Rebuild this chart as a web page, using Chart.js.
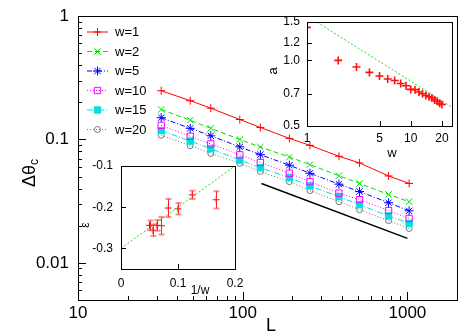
<!DOCTYPE html>
<html>
<head>
<meta charset="utf-8">
<script src="https://cdn.jsdelivr.net/npm/chart.js@4.4.0/dist/chart.umd.min.js"></script>
<style>
html, body { margin: 0; padding: 0; background: #fff; }
#wrap { position: relative; width: 471px; height: 336px; }
canvas { position: absolute; }
</style>
</head>
<body>
<div id="wrap">
  <canvas id="main" width="471" height="336" style="left:0;top:0"></canvas>
  <canvas id="insetA" width="205" height="150" style="left:260px;top:10px"></canvas>
  <canvas id="insetE" width="175" height="146" style="left:75px;top:156px"></canvas>
</div>
<script>
// main plot: delta theta_c vs L for several w
const sizeL = [32, 48, 64, 96, 128, 192, 256, 384, 512, 768, 1024];
const seriesLabels = ['w=1', 'w=2', 'w=5', 'w=10', 'w=15', 'w=20'];
const thetaW1 = [0.248, 0.206, 0.179, 0.145, 0.125, 0.102, 0.0895, 0.073, 0.0645, 0.0506, 0.044];
const thetaW2 = [0.175, 0.143, 0.123, 0.100, 0.0867, 0.072, 0.0625, 0.0508, 0.044, 0.0358, 0.0313];
const thetaW5 = [0.150, 0.123, 0.107, 0.087, 0.0752, 0.0618, 0.0532, 0.0434, 0.0378, 0.0307, 0.0264];
const thetaW10 = [0.130, 0.106, 0.092, 0.075, 0.065, 0.0532, 0.0455, 0.0367, 0.0325, 0.0265, 0.0229];
const thetaW15 = [0.118, 0.097, 0.084, 0.068, 0.059, 0.049, 0.042, 0.0344, 0.0296, 0.024, 0.0209];
const thetaW20 = [0.108, 0.089, 0.077, 0.064, 0.055, 0.0455, 0.0385, 0.0313, 0.027, 0.022, 0.019];
const guideL = [130, 1000];
const guideTheta = [0.044, 0.0158];
const mainXTicks = [10, 100, 1000];
const mainXTickLabels = ['10', '100', '1000'];
const mainYTicks = [0.01, 0.1, 1];
const mainYTickLabels = ['0.01', '0.1', '1'];

// inset top right: a vs w
const widthW = [1, 2, 3, 4, 5, 6, 7, 8, 9, 10, 11, 12, 13, 14, 15, 16, 17, 18, 19, 20];
const ampA = [1.417, 1.00, 0.933, 0.881, 0.848, 0.821, 0.809, 0.783, 0.765, 0.736, 0.734, 0.716, 0.703, 0.690, 0.681, 0.672, 0.658, 0.649, 0.636, 0.627];
const fitW = [1, 25];
const fitA = [1.6, 0.61];
const insetAXTicks = [1, 5, 10, 20];
const insetAXTickLabels = ['1', '5', '10', '20'];
const insetAYTicks = [0.5, 0.7, 1.0, 1.2, 1.5];
const insetAYTickLabels = ['0.5', '0.7', '1.0', '1.2', '1.5'];

// inset bottom left: epsilon vs 1/w
const invW = [0.167, 0.125, 0.1, 0.083, 0.071, 0.063, 0.056, 0.05];
const eps = [-0.182, -0.170, -0.204, -0.202, -0.245, -0.244, -0.256, -0.244];
const epsErr = [0.021, 0.010, 0.014, 0.022, 0.021, 0.013, 0.014, 0.012];
const fitInvW = [0, 0.2];
const fitEps = [-0.3, -0.1];
const insetEXTicks = [0, 0.1, 0.2];
const insetEXTickLabels = ['0', '0.1', '0.2'];
const insetEYTicks = [-0.3, -0.2, -0.1];
const insetEYTickLabels = ['-0.3', '-0.2', '-0.1'];

Chart.defaults.color = '#000';
Chart.defaults.font.family = "'Liberation Sans', Arial, sans-serif";

const pts = (xs, ys) => xs.map((x, i) => ({ x: x, y: ys[i] }));

// style of each w series (line + marker)
const styles = [
  { c: '#ff0000', dash: [], ps: 'cross', r: 4, bg: '#ff0000' },
  { c: '#00dd00', dash: [5, 3], ps: 'crossRot', r: 4.5, bg: '#00dd00' },
  { c: '#0000ff', dash: [5, 2, 1, 2], ps: 'star', r: 4.5, bg: '#0000ff' },
  { c: '#ff00ff', dash: [1, 2], ps: 'rect', r: 4.5, bg: 'rgba(0,0,0,0)' },
  { c: '#00e0e0', dash: [6, 2, 1, 2], ps: 'rect', r: 4.5, bg: '#00e0e0' },
  { c: '#777777', dash: [1, 2], ps: 'circle', r: 3, bg: 'rgba(0,0,0,0)' }
];
const allTheta = [thetaW1, thetaW2, thetaW5, thetaW10, thetaW15, thetaW20];

function logMinor(lo, hi) {
  const out = [];
  for (let d = lo; d < hi; d *= 10) {
    for (let k = 1; k < 10; k++) {
      const v = d * k;
      if (v >= lo && v <= hi) out.push(v);
    }
  }
  return out;
}

// fixed chart area: axis sizes and no extra label padding
function yFit(w) { return s => { s.width = w; s.paddingTop = 0; s.paddingBottom = 0; }; }
function xFit(h) { return s => { s.height = h; s.paddingLeft = 0; s.paddingRight = 0; }; }
function setTicks(vals) { return s => { s.ticks = vals.map(v => ({ value: v })); }; }

// inward ticks + frame, gnuplot style
function frameTicks(spec) {
  return {
    id: 'frameTicks',
    beforeDatasetsDraw(chart) {
      if (!spec.fill) return;
      const a = chart.chartArea, ctx = chart.ctx;
      ctx.save();
      ctx.fillStyle = '#fff';
      ctx.fillRect(a.left, a.top, a.right - a.left, a.bottom - a.top);
      ctx.restore();
    },
    afterDraw(chart) {
      const { ctx, chartArea: a, scales } = chart;
      ctx.save();
      ctx.strokeStyle = '#000';
      ctx.lineWidth = 1;
      ctx.beginPath();
      const xt = (list, len) => list.forEach(v => {
        const p = Math.round(scales.x.getPixelForValue(v)) + 0.5;
        ctx.moveTo(p, a.bottom); ctx.lineTo(p, a.bottom - len);
      });
      const yt = (list, len) => list.forEach(v => {
        const p = Math.round(scales.y.getPixelForValue(v)) + 0.5;
        ctx.moveTo(a.left, p); ctx.lineTo(a.left + len, p);
      });
      xt(spec.xMajor || [], spec.major);
      xt(spec.xMinor || [], spec.minor);
      yt(spec.yMajor || [], spec.major);
      yt(spec.yMinor || [], spec.minor);
      ctx.stroke();
      ctx.strokeRect(Math.round(a.left) + 0.5, Math.round(a.top) + 0.5,
        Math.round(a.right - a.left), Math.round(a.bottom - a.top));
      // axis titles
      (spec.titles || []).forEach(t => {
        ctx.save();
        ctx.fillStyle = '#000';
        ctx.translate(t.x, t.y);
        if (t.rot) ctx.rotate(-Math.PI / 2);
        ctx.textAlign = 'left';
        ctx.textBaseline = 'middle';
        ctx.font = t.size + "px 'Liberation Sans', Arial, sans-serif";
        const w1 = ctx.measureText(t.text).width;
        let w2 = 0;
        if (t.sub) {
          ctx.font = t.subSize + "px 'Liberation Sans', Arial, sans-serif";
          w2 = ctx.measureText(t.sub).width;
        }
        const x0 = -(w1 + w2) / 2;
        ctx.font = t.size + "px 'Liberation Sans', Arial, sans-serif";
        ctx.fillText(t.text, x0, 0);
        if (t.sub) {
          ctx.font = t.subSize + "px 'Liberation Sans', Arial, sans-serif";
          ctx.fillText(t.sub, x0 + w1, t.subOff);
        }
        ctx.restore();
      });
      ctx.restore();
    }
  };
}

function drawMarker(ctx, st, x, y) {
  if (Chart.helpers && Chart.helpers.drawPoint) {
    Chart.helpers.drawPoint(ctx, { pointStyle: st.ps, radius: st.r, rotation: 0, borderWidth: 1 }, x, y);
  }
}

const legendPlugin = {
  id: 'wLegend',
  afterDraw(chart) {
    const ctx = chart.ctx;
    ctx.save();
    seriesLabels.forEach((lab, i) => {
      const st = styles[i];
      const y = 31.5 + i * 19.5;
      ctx.strokeStyle = st.c;
      ctx.lineWidth = 1;
      ctx.setLineDash(st.dash);
      ctx.beginPath();
      ctx.moveTo(87, y + 0.5); ctx.lineTo(108, y + 0.5);
      ctx.stroke();
      ctx.setLineDash([]);
      ctx.fillStyle = st.bg;
      ctx.strokeStyle = st.c;
      drawMarker(ctx, st, 97.5, y + 0.5);
      ctx.fillStyle = '#000';
      ctx.font = "13px 'Liberation Sans', Arial, sans-serif";
      ctx.textAlign = 'left';
      ctx.textBaseline = 'middle';
      ctx.fillText(lab, 115, y + 1);
    });
    ctx.restore();
  }
};

const mainSets = seriesLabels.map((lab, i) => ({
  label: lab,
  data: pts(sizeL, allTheta[i]),
  borderColor: styles[i].c,
  borderWidth: 1,
  borderDash: styles[i].dash,
  pointStyle: styles[i].ps,
  pointRadius: styles[i].r,
  pointBorderWidth: 1,
  pointBorderColor: styles[i].c,
  pointBackgroundColor: styles[i].bg,
  tension: 0
}));
mainSets.push({
  label: 'slope',
  data: pts(guideL, guideTheta),
  borderColor: '#000',
  borderWidth: 1.5,
  pointRadius: 0,
  tension: 0
});

new Chart(document.getElementById('main'), {
  type: 'line',
  data: { datasets: mainSets },
  options: {
    responsive: false,
    animation: false,
    layout: { padding: { left: 0, top: 16, right: 14, bottom: 0 } },
    plugins: { legend: { display: false }, tooltip: { enabled: false } },
    scales: {
      x: {
        type: 'logarithmic', min: 10, max: 2000,
        grid: { display: false, drawTicks: false }, border: { display: false },
        afterBuildTicks: setTicks(mainXTicks), afterFit: xFit(36),
        ticks: { padding: 3, font: { size: 17 }, maxRotation: 0, autoSkip: false,
          callback: (v, i) => mainXTickLabels[i] }
      },
      y: {
        type: 'logarithmic', min: 0.005, max: 1,
        grid: { display: false, drawTicks: false }, border: { display: false },
        afterBuildTicks: setTicks(mainYTicks), afterFit: yFit(78),
        ticks: { padding: 9, font: { size: 17 }, autoSkip: false,
          callback: (v, i) => mainYTickLabels[i] }
      }
    }
  },
  plugins: [frameTicks({
    major: 8, minor: 4,
    xMajor: [100, 1000], xMinor: logMinor(10, 2000).filter(v => v !== 10 && v !== 100 && v !== 1000),
    yMajor: [0.01, 0.1], yMinor: logMinor(0.001, 1).filter(v => v >= 0.005 && v !== 0.01 && v !== 0.1 && v !== 1),
    titles: [
      { text: 'L', x: 271, y: 326, size: 18 },
      { text: 'Δθ', sub: 'c', x: 30, y: 173, size: 18, subSize: 12, subOff: 5, rot: true }
    ]
  }), legendPlugin]
});

// inset: a vs w
new Chart(document.getElementById('insetA'), {
  type: 'line',
  data: {
    datasets: [
      { label: 'fit', data: pts(fitW, fitA), borderColor: '#22dd22', borderWidth: 1,
        borderDash: [2, 2], pointRadius: 0, tension: 0 },
      { label: 'a', data: pts(widthW, ampA), showLine: false, pointStyle: 'cross',
        pointRadius: 4, pointBorderWidth: 1.6, pointBorderColor: '#ff1010' }
    ]
  },
  options: {
    responsive: false,
    animation: false,
    layout: { padding: { left: 0, top: 12, right: 13, bottom: 0 } },
    plugins: { legend: { display: false }, tooltip: { enabled: false } },
    scales: {
      x: {
        type: 'logarithmic', min: 1, max: 25,
        grid: { display: false, drawTicks: false }, border: { display: false },
        afterBuildTicks: setTicks(insetAXTicks), afterFit: xFit(34),
        ticks: { padding: 5, font: { size: 12 }, maxRotation: 0, autoSkip: false,
          callback: (v, i) => insetAXTickLabels[i] }
      },
      y: {
        type: 'logarithmic', min: 0.5, max: 1.5,
        grid: { display: false, drawTicks: false }, border: { display: false },
        afterBuildTicks: setTicks(insetAYTicks), afterFit: yFit(47),
        ticks: { padding: 7, font: { size: 12 }, autoSkip: false,
          callback: (v, i) => insetAYTickLabels[i] }
      }
    }
  },
  plugins: [frameTicks({
    fill: true, major: 5, minor: 3,
    xMajor: [5, 10, 20], yMajor: [0.7, 1.0, 1.2],
    titles: [
      { text: 'w', x: 132, y: 143, size: 13 },
      { text: 'a', x: 13, y: 61, size: 13, rot: true }
    ]
  })]
});

// error bars for epsilon
const errorBars = {
  id: 'errorBars',
  afterDatasetsDraw(chart) {
    const { ctx, scales } = chart;
    ctx.save();
    invW.forEach((xv, i) => {
      const px = Math.round(scales.x.getPixelForValue(xv)) + 0.5;
      const y1 = scales.y.getPixelForValue(eps[i] - epsErr[i]);
      const y2 = scales.y.getPixelForValue(eps[i] + epsErr[i]);
      ctx.strokeStyle = '#ff2020';
      ctx.lineWidth = 1;
      ctx.beginPath();
      ctx.moveTo(px, y1); ctx.lineTo(px, y2);
      ctx.stroke();
      ctx.strokeStyle = 'rgba(255,70,70,0.6)';
      ctx.lineWidth = 2;
      ctx.beginPath();
      ctx.moveTo(px - 3, y1); ctx.lineTo(px + 3, y1);
      ctx.moveTo(px - 3, y2); ctx.lineTo(px + 3, y2);
      ctx.stroke();
    });
    ctx.restore();
  }
};

// inset: epsilon vs 1/w
new Chart(document.getElementById('insetE'), {
  type: 'line',
  data: {
    datasets: [
      { label: 'fit', data: pts(fitInvW, fitEps), borderColor: '#22dd22', borderWidth: 1,
        borderDash: [2, 2], pointRadius: 0, tension: 0 },
      { label: 'eps', data: pts(invW, eps), showLine: false, pointStyle: 'cross',
        pointRadius: 3.5, pointBorderWidth: 1, pointBorderColor: '#ff0000' }
    ]
  },
  options: {
    responsive: false,
    animation: false,
    layout: { padding: { left: 0, top: 10, right: 15, bottom: 0 } },
    plugins: { legend: { display: false }, tooltip: { enabled: false } },
    scales: {
      x: {
        type: 'linear', min: 0, max: 0.2,
        grid: { display: false, drawTicks: false }, border: { display: false },
        afterBuildTicks: setTicks(insetEXTicks), afterFit: xFit(33),
        ticks: { padding: 7, font: { size: 12 }, maxRotation: 0, autoSkip: false,
          callback: (v, i) => insetEXTickLabels[i] }
      },
      y: {
        type: 'linear', min: -0.35, max: -0.1,
        grid: { display: false, drawTicks: false }, border: { display: false },
        afterBuildTicks: setTicks(insetEYTicks), afterFit: yFit(46),
        ticks: { padding: 8, font: { size: 12 }, autoSkip: false,
          callback: (v, i) => insetEYTickLabels[i] }
      }
    }
  },
  plugins: [frameTicks({
    fill: true, major: 5, minor: 3,
    xMajor: [0.1], yMajor: [-0.3, -0.2],
    titles: [
      { text: '1/w', x: 125, y: 135, size: 12 },
      { text: 'ε', x: 11, y: 69, size: 12, rot: true }
    ]
  }), errorBars]
});
</script>
</body>
</html>
